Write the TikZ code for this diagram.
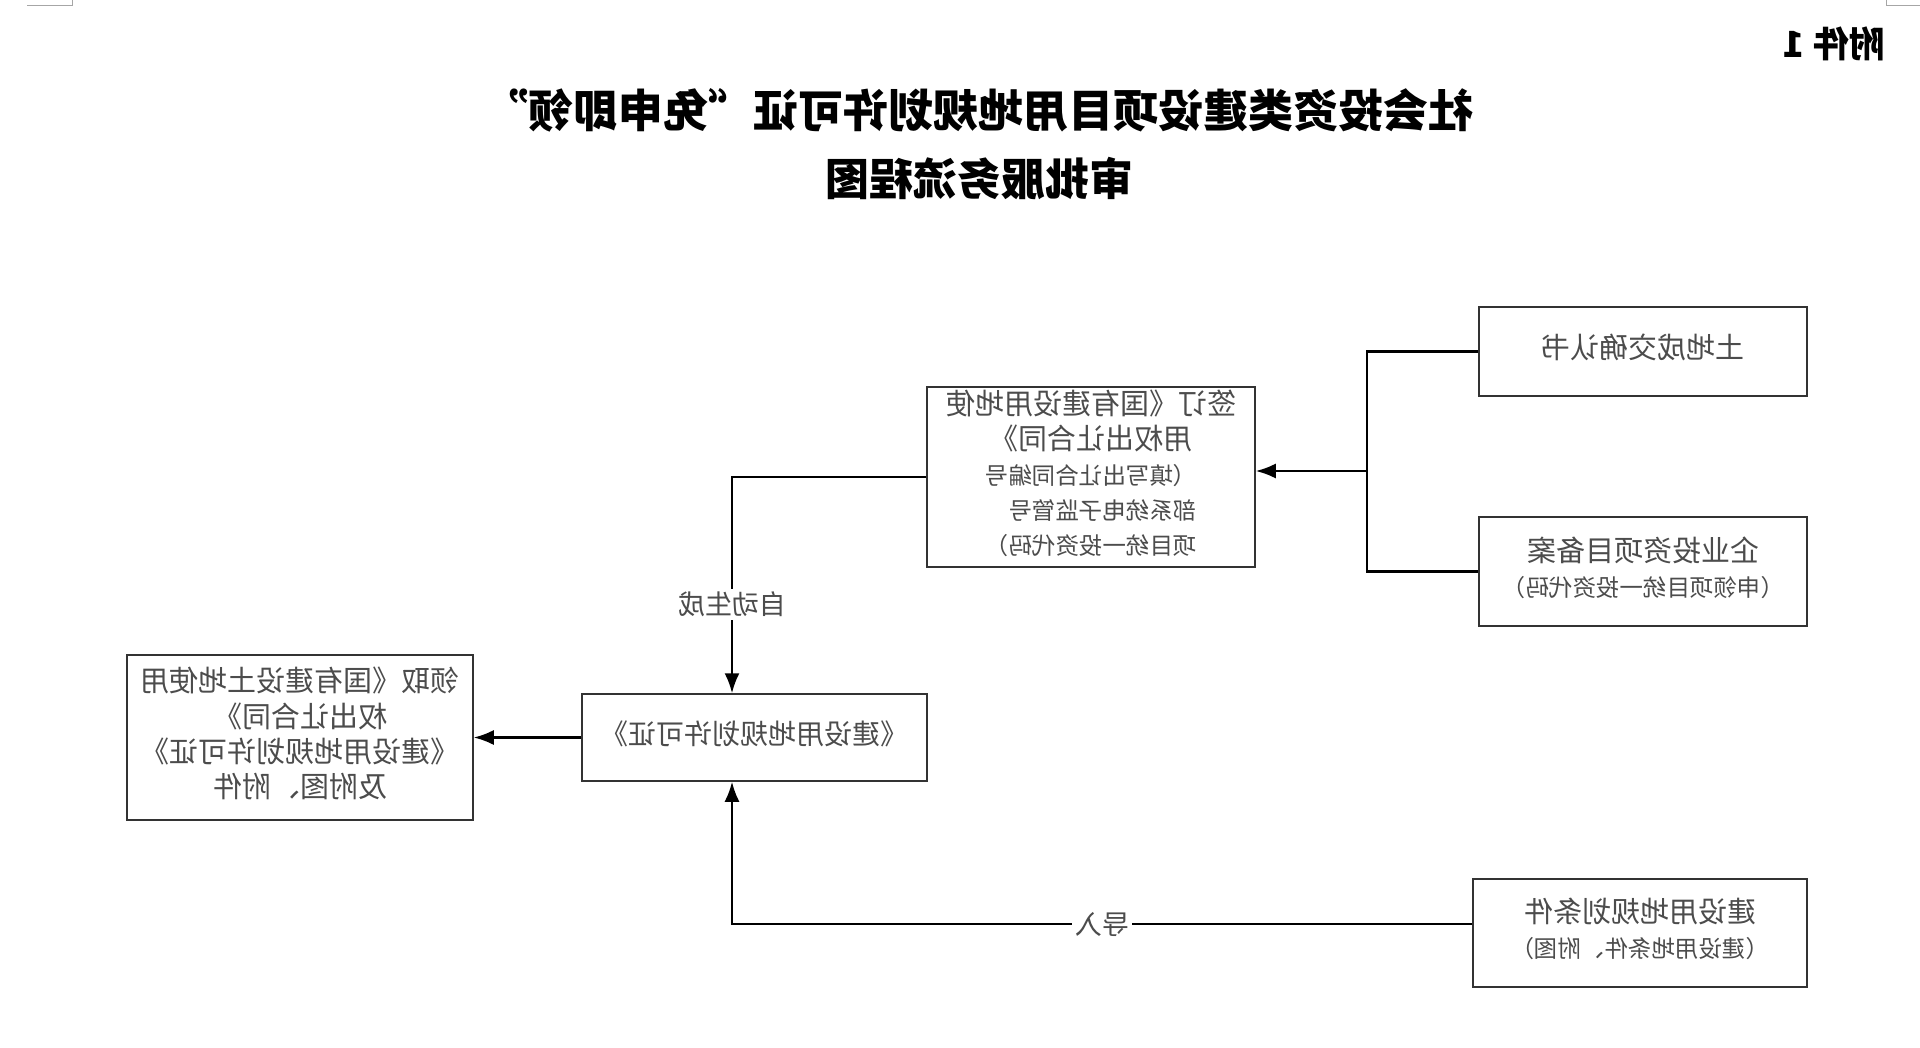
\documentclass[tikz,border=0pt]{standalone}
\usepackage{fontspec}
\usepackage{graphicx}
\setmainfont{Noto Sans CJK SC}
\usetikzlibrary{arrows.meta,calc,positioning}
\tikzset{
box/.style={draw=black!80, line width=1.5pt, inner sep=0pt, text=black!70},
link/.style={line width=2.2pt},
arr/.style={link, -{Latex[length=20pt,width=15pt]}},
tag/.style={fill=white, inner sep=3pt, text=black!70, font=\fontsize{27}{30}\selectfont},
}
\newcommand{\mirror}[1]{\reflectbox{\begin{tabular}{@{}c@{}}#1\end{tabular}}}
\newcommand{\bigline}{\fontsize{29}{35}\selectfont}
\newcommand{\smallline}{\fontsize{23.5}{35}\selectfont}
\newcommand{\fq}[1]{{\addfontfeature{RawFeature=+fwid}#1}}

\begin{document}
\begin{tikzpicture}[x=1pt,y=1pt,yscale=-1]
\useasboundingbox (0,0) rectangle (1920,1048);
%Corner Marks
\draw[black!35, line width=1pt] (27,6) -- (72,6) -- (72,0);
\draw[black!35, line width=1pt] (1920,6) -- (1886,6) -- (1886,0);
%Titles
\draw (1834,44) node (fj) [font=\fontsize{36}{40}\selectfont\bfseries] {\reflectbox{附件 1}};
\draw (978,110) node (t1) [font=\fontsize{45}{48}\selectfont\bfseries] {\reflectbox{社会投资类建设项目用地规划许可证\fq{“}免申即领\fq{”}}};
\draw (979,178) node (t2) [font=\fontsize{44}{48}\selectfont\bfseries] {\reflectbox{审批服务流程图}};
%Boxes
\node[box, minimum width=328, minimum height=89, font=\bigline] (land) at (1643,351.5) {\mirror{土地成交确认书}};
\node[box, minimum width=328, minimum height=109, font=\bigline] (fil) at (1643,571.5) {\mirror{企业投资项目备案\\ \smallline （申领项目统一投资代码）}};
\node[box, minimum width=328, minimum height=180, font=\bigline] (sign) at (1091,477) {\mirror{签订《国有建设用地使\\ 用权出让合同》\\ \smallline \begin{tabular}[t]{@{}l@{}}（填写出让合同编号\\ 部系统电子监管号\\ 项目统一投资代码）\end{tabular}}};
\node[box, minimum width=345, minimum height=87, font=\fontsize{28}{35}\selectfont] (lic) at (754.5,737.5) {\mirror{《建设用地规划许可证》}};
\node[box, minimum width=346, minimum height=165, font=\bigline] (take) at (300,737.5) {\mirror{领取《国有建设土地使用\\ 权出让合同》\\ 《建设用地规划许可证》\\ 及附图、附件}};
\node[box, minimum width=334, minimum height=108, font=\bigline] (cond) at (1640,933) {\mirror{建设用地规划条件\\ \smallline （建设用地条件、附图）}};
%Straight Lines
\coordinate (jn) at (1367,471);
\coordinate (vl) at (732,476);
\draw[link] (land.west) -| (jn) |- (fil.west);
\draw[arr] (jn) -- (jn -| sign.east);
\draw[arr] (sign.west) -| node[tag, pos=0.795] {\reflectbox{自动生成}} (vl |- lic.north);
\draw[arr] (lic.west) -- (take.east);
\draw[arr] ([yshift=-9pt]cond.west) -| node[tag, pos=0.25] {\reflectbox{导入}} (vl |- lic.south);
\end{tikzpicture}
\end{document}
